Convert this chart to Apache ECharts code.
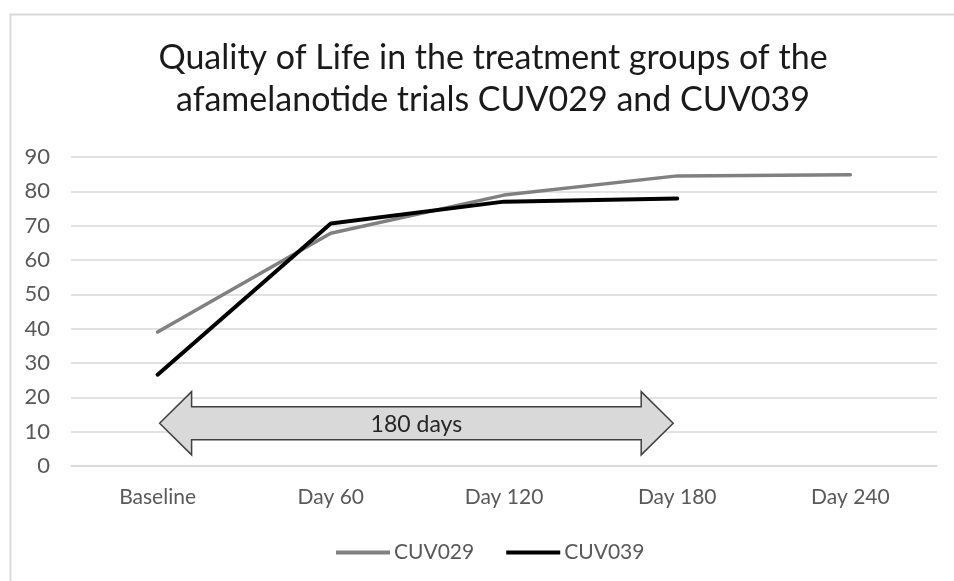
<!DOCTYPE html>
<html>
<head>
<meta charset="utf-8">
<script src="https://cdn.jsdelivr.net/npm/echarts@6/dist/echarts.min.js"></script>
<style>html,body{margin:0;padding:0;background:#fff}#c{width:954px;height:581px}</style>
</head>
<body>
<div id="c"></div>
<script>
var titleText = 'Quality of Life in the treatment groups of the\nafamelanotide trials CUV029 and CUV039';
var categories = ['Baseline', 'Day 60', 'Day 120', 'Day 180', 'Day 240'];
var cuv029 = [39, 67.8, 78.9, 84.5, 84.8];
var cuv039 = [26.6, 70.6, 77.0, 77.9, null];
var yTicks = {min: 0, max: 90, interval: 10};
// arrow annotation: from category index, to category index, centre value, half heights (value units)
var arrowSpan = [0, 3];
var arrowCenter = 12.45;
var arrowHeadHalf = 9.2;
var arrowBodyHalf = 4.8;
var arrowLabel = '180 days';

var FONT = 'Lato';
var chart = echarts.init(document.getElementById('c'), null, {renderer: 'canvas'});

function renderArrow(params, api) {
  var x0 = api.coord([api.value(0), api.value(2)]);
  var x1 = api.coord([api.value(1), api.value(2)]);
  var yc = x0[1];
  var headTop = api.coord([api.value(0), api.value(2) + arrowHeadHalf])[1];
  var headBot = api.coord([api.value(0), api.value(2) - arrowHeadHalf])[1];
  var bodyTop = api.coord([api.value(0), api.value(2) + arrowBodyHalf])[1];
  var bodyBot = api.coord([api.value(0), api.value(2) - arrowBodyHalf])[1];
  var L = x0[0] + 2, R = x1[0] - 4, H = 32;
  var pts = [
    [L, yc], [L + H, headTop], [L + H, bodyTop], [R - H, bodyTop], [R - H, headTop],
    [R, yc], [R - H, headBot], [R - H, bodyBot], [L + H, bodyBot], [L + H, headBot]
  ];
  return {
    type: 'group',
    children: [
      {type: 'polygon', shape: {points: pts}, style: {fill: '#d9d9d9', stroke: '#404040', lineWidth: 1.5}},
      {type: 'text', style: {text: arrowLabel, x: (L + R) / 2, y: yc + 1, align: 'center', verticalAlign: 'middle',
        font: '23px ' + FONT, fill: '#262626'}}
    ]
  };
}

chart.setOption({
  backgroundColor: '#fff',
  animation: false,
  title: {
    text: titleText,
    left: 488,
    top: 32,
    textAlign: 'center',
    textStyle: {fontFamily: FONT, fontSize: 34, fontWeight: 'normal', color: '#1a1a1a', lineHeight: 42}
  },
  graphic: [{
    type: 'rect', left: 8, top: 12, z: -10,
    shape: {width: 980, height: 620},
    style: {fill: 'none', stroke: '#d9d9d9', lineWidth: 2}
  }],
  legend: {
    data: ['CUV029', 'CUV039'],
    left: 336,
    top: 542,
    padding: 0,
    icon: 'rect',
    itemWidth: 54,
    itemHeight: 4,
    itemGap: 32,
    textStyle: {fontFamily: FONT, fontSize: 21, color: '#595959', padding: [0, 0, 0, -1]}
  },
  grid: {left: 71, right: 17, top: 157, bottom: 115, containLabel: false},
  xAxis: {
    type: 'category',
    data: categories,
    boundaryGap: true,
    axisLine: {lineStyle: {color: '#d9d9d9', width: 1.5}},
    axisTick: {show: false},
    axisLabel: {fontFamily: FONT, fontSize: 21, color: '#595959', margin: 21}
  },
  yAxis: {
    type: 'value',
    min: yTicks.min, max: yTicks.max, interval: yTicks.interval,
    axisLine: {show: false},
    axisTick: {show: false},
    splitLine: {lineStyle: {color: '#d9d9d9', width: 1.5}},
    axisLabel: {fontFamily: FONT, fontSize: 22, color: '#595959', margin: 21}
  },
  series: [
    {
      name: 'CUV029', type: 'line', data: cuv029, showSymbol: false, symbol: 'none',
      itemStyle: {color: '#808080'},
      lineStyle: {color: '#808080', width: 3.5, cap: 'round', join: 'round'}, z: 3
    },
    {
      name: 'CUV039', type: 'line', data: cuv039, showSymbol: false, symbol: 'none',
      itemStyle: {color: '#000000'},
      lineStyle: {color: '#000000', width: 4, cap: 'round', join: 'round'}, z: 4
    },
    {
      name: 'arrow', type: 'custom', renderItem: renderArrow,
      encode: {x: [0, 1], y: 2},
      data: [[arrowSpan[0], arrowSpan[1], arrowCenter]],
      silent: true, z: 2
    }
  ]
});
</script>
</body>
</html>
